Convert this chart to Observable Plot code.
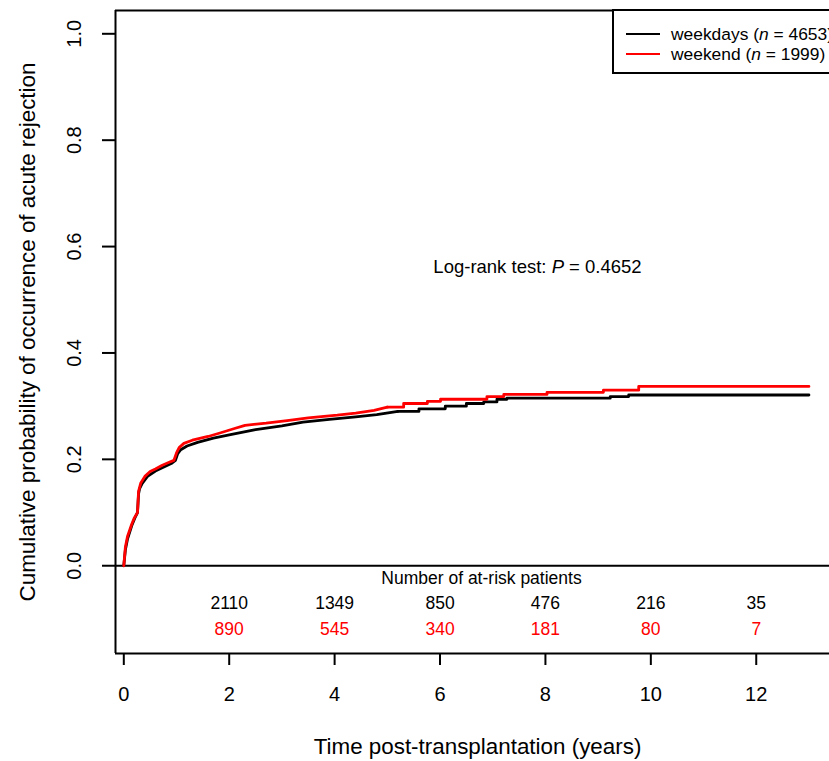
<!DOCTYPE html>
<html>
<head>
<meta charset="utf-8">
<script src="https://cdn.jsdelivr.net/npm/d3@7"></script>
<script src="https://cdn.jsdelivr.net/npm/@observablehq/plot@0.6"></script>
<style>
  body { margin: 0; background: #fff; font-family: "Liberation Sans", Arial, sans-serif; }
  #wrap { position: relative; width: 829px; height: 761px; overflow: hidden; }
  #legend { position: absolute; left: 612px; top: 9px; width: 240px; height: 61px; border: 2px solid #000; background: #fff; font-size: 17.4px; color: #000; }
  .row { position: absolute; left: 0; height: 20px; line-height: 20px; white-space: nowrap; }
  .sw { position: absolute; left: 12px; width: 34px; height: 0; border-top: 2.6px solid; }
  .lab { position: absolute; left: 57px; top: 0; }
</style>
</head>
<body>
<div id="wrap">
  <div id="chart"></div>
  <div id="legend"></div>
</div>
<script>
// ---- data ----
const weekdaysTime = [0, 0.03, 0.07, 0.15, 0.22, 0.26, 0.28, 0.30, 0.35, 0.45, 0.60, 0.75, 0.90, 0.98, 1.02, 1.08, 1.20, 1.40, 1.70, 2.00, 2.50, 3.00, 3.40, 3.90, 4.40, 4.80, 5.20, 5.60, 6.10, 6.50, 6.83, 7.08, 7.27, 9.23, 9.58, 13.0];
const weekdaysCum  = [0, 0.030, 0.050, 0.075, 0.092, 0.100, 0.135, 0.145, 0.155, 0.168, 0.178, 0.185, 0.192, 0.198, 0.210, 0.218, 0.225, 0.232, 0.240, 0.246, 0.256, 0.263, 0.270, 0.275, 0.280, 0.284, 0.290, 0.295, 0.300, 0.305, 0.308, 0.313, 0.315, 0.318, 0.321, 0.321];

const weekendTime = [0, 0.03, 0.07, 0.15, 0.20, 0.26, 0.28, 0.32, 0.40, 0.50, 0.60, 0.73, 0.85, 0.95, 1.00, 1.05, 1.14, 1.30, 1.60, 1.84, 2.10, 2.30, 2.70, 3.10, 3.50, 4.05, 4.40, 4.75, 5.00, 5.31, 5.76, 6.01, 6.89, 7.21, 8.03, 9.10, 9.77, 13.0];
const weekendCum  = [0, 0.035, 0.055, 0.078, 0.090, 0.100, 0.140, 0.155, 0.168, 0.177, 0.182, 0.189, 0.194, 0.198, 0.212, 0.222, 0.230, 0.236, 0.243, 0.250, 0.258, 0.264, 0.268, 0.273, 0.278, 0.283, 0.287, 0.292, 0.298, 0.305, 0.309, 0.313, 0.318, 0.322, 0.326, 0.330, 0.337, 0.337];

const riskTimes    = [2, 4, 6, 8, 10, 12];
const weekdaysRisk = [2110, 1349, 850, 476, 216, 35];
const weekendRisk  = [890, 545, 340, 181, 80, 7];

const xTicks = [0, 2, 4, 6, 8, 10, 12];
const yTicks = [0, 0.2, 0.4, 0.6, 0.8, 1.0];

const seriesNames  = ["weekdays", "weekend"];
const seriesN      = [4653, 1999];
const seriesColors = ["#000000", "#ff0000"];

const xTitle = "Time post-transplantation (years)";
const yTitle = "Cumulative probability of occurrence of acute rejection";
const riskTitle = "Number of at-risk patients";
const testLabel = "Log-rank test: ";
const pValue = "0.4652";

// ---- build tables ----
// dense early part (many tiny steps) is drawn as a continuous line, the sparse tail as steps
const splitT = 5.2;
const weekdays = weekdaysTime.map((t, i) => ({t, v: weekdaysCum[i]}));
const weekend  = weekendTime.map((t, i) => ({t, v: weekendCum[i]}));

const xDomain = [-0.1575, 13.39];
const yDomain = [-0.165, 1.0438];
const font = "Liberation Sans, Arial, sans-serif";

function curveMarks(data, color) {
  const head = data.filter(d => d.t <= splitT);
  const tail = data.filter(d => d.t >= head[head.length - 1].t);
  return [
    Plot.line(head, {x: "t", y: "v", curve: "linear", stroke: color, strokeWidth: 2.8, strokeLinejoin: "round"}),
    Plot.line(tail, {x: "t", y: "v", curve: "step-after", stroke: color, strokeWidth: 2.8})
  ];
}

const chart = Plot.plot({
  width: 829,
  height: 761,
  marginLeft: 115,
  marginRight: 0,
  marginTop: 10,
  marginBottom: 108,
  style: {fontFamily: font, background: "#fff", color: "#000", overflow: "visible"},
  x: {domain: xDomain},
  y: {domain: yDomain},
  marks: [
    // box (top, bottom, left)
    Plot.ruleY([yDomain[1], yDomain[0]], {stroke: "#000", strokeWidth: 2}),
    Plot.ruleX([xDomain[0]], {stroke: "#000", strokeWidth: 2}),
    // zero line
    Plot.ruleY([0], {stroke: "#000", strokeWidth: 2}),
    // axes
    Plot.axisY({ticks: yTicks, tickSize: 13, tickFormat: () => "", label: null, strokeWidth: 2}),
    Plot.text(yTicks, {y: d => d, text: d => d.toFixed(1), frameAnchor: "left", dx: -41, rotate: -90, fontSize: 20, textAnchor: "middle", lineAnchor: "middle", fill: "#000"}),
    Plot.axisX({ticks: xTicks, tickSize: 12, tickPadding: 21, fontSize: 20, label: null, strokeWidth: 2, tickFormat: d => String(d)}),
    Plot.text([xTitle], {frameAnchor: "bottom", dy: 93, dx: 5, fontSize: 22.4, textAnchor: "middle", lineAnchor: "middle", fill: "#000"}),
    Plot.text([yTitle], {frameAnchor: "left", dx: -88, rotate: -90, fontSize: 22.4, textAnchor: "middle", lineAnchor: "middle", fill: "#000"}),
    // curves
    ...curveMarks(weekdays, seriesColors[0]),
    ...curveMarks(weekend, seriesColors[1]),
    // test label
    Plot.text([testLabel + "P = " + pValue], {frameAnchor: "top", dx: 65, dy: 257, fontSize: 18.5, textAnchor: "middle", lineAnchor: "middle", fill: "#000"}),
    // at-risk table
    Plot.text([riskTitle], {frameAnchor: "bottom", dx: 9, dy: -75, fontSize: 17.5, textAnchor: "middle", lineAnchor: "middle", fill: "#000"}),
    Plot.text(riskTimes, {x: d => d, text: (d, i) => String(weekdaysRisk[i]), frameAnchor: "bottom", dy: -50, fontSize: 17.5, lineAnchor: "middle", fill: seriesColors[0]}),
    Plot.text(riskTimes, {x: d => d, text: (d, i) => String(weekendRisk[i]), frameAnchor: "bottom", dy: -24, fontSize: 17.5, lineAnchor: "middle", fill: seriesColors[1]})
  ]
});

document.getElementById("chart").appendChild(chart);

// italic P in the test label
d3.select(chart).selectAll("text").each(function() {
  const el = d3.select(this);
  if (el.text() === testLabel + "P = " + pValue) {
    el.text("");
    el.append("tspan").text(testLabel);
    el.append("tspan").attr("font-style", "italic").text("P");
    el.append("tspan").text(" = " + pValue);
  }
});

// legend
const legend = document.getElementById("legend");
seriesNames.forEach((name, i) => {
  const row = document.createElement("div");
  row.className = "row";
  row.style.top = (13 + i * 20) + "px";
  const sw = document.createElement("div");
  sw.className = "sw";
  sw.style.top = "9px";
  sw.style.borderTopColor = seriesColors[i];
  const lab = document.createElement("div");
  lab.className = "lab";
  lab.innerHTML = name + " (<i>n</i> = " + seriesN[i] + ")";
  row.appendChild(sw);
  row.appendChild(lab);
  legend.appendChild(row);
});
</script>
</body>
</html>
